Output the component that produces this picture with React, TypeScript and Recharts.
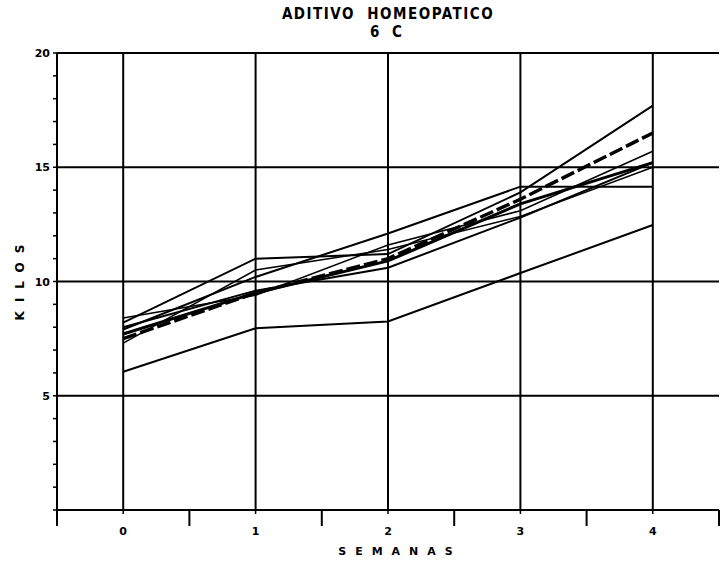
import * as React from 'react';
import { LineChart, Line, XAxis, YAxis, ReferenceLine } from 'recharts';

// weeks on the x axis
const weeks = [0, 1, 2, 3, 4];

// weight (kilos) of each animal, one value per week
const animalA = [8.2, 11.0, 11.2, 13.9, 17.7];
const animalB = [7.5, 9.5, 11.0, 13.6, 16.5];
const animalC = [7.9, 10.2, 12.1, 14.15, 14.15];
const animalD = [8.4, 9.4, 11.6, 13.1, 15.7];
const animalE = [7.7, 9.5, 10.9, 13.4, 15.2];
const animalF = [7.3, 10.5, 11.4, 12.85, 15.0];
const animalG = [8.0, 9.6, 10.6, 12.8, 15.2];
const animalH = [6.05, 7.95, 8.25, 10.37, 12.47];

const xTicks = [-0.5, 0, 0.5, 1, 1.5, 2, 2.5, 3, 3.5, 4, 4.5];
const yTicks = [0, 1, 2, 3, 4, 5, 6, 7, 8, 9, 10, 11, 12, 13, 14, 15, 16, 17, 18, 19, 20];
const yLabels = [5, 10, 15, 20];
const xGrid = [0, 1, 2, 3, 4];
const yGrid = [5, 10, 15, 20];

const data = weeks.map((w, i) => ({
  week: w,
  a: animalA[i],
  b: animalB[i],
  c: animalC[i],
  d: animalD[i],
  e: animalE[i],
  f: animalF[i],
  g: animalG[i],
  h: animalH[i],
}));

const labelFont = '"DejaVu Sans", sans-serif';
const titleFont = '"Liberation Sans Narrow", "DejaVu Sans Condensed", sans-serif';

function XTick(props: any) {
  const { x, y, payload } = props;
  const v = payload.value;
  const whole = Number.isInteger(v);
  if (!whole) {
    return <line x1={x} x2={x} y1={y} y2={y + 16} stroke="#000" strokeWidth={2} />;
  }
  return (
    <g>
      <line x1={x} x2={x} y1={y} y2={y + 4} stroke="#000" strokeWidth={1.5} />
      <text x={x} y={y + 25} textAnchor="middle" fontFamily={labelFont} fontWeight="bold" fontSize={11} fill="#000">
        {v}
      </text>
    </g>
  );
}

function YTick(props: any) {
  const { x, y, payload } = props;
  const v = payload.value;
  return (
    <g>
      <line x1={x - 4} x2={x} y1={y} y2={y} stroke="#000" strokeWidth={1.5} />
      {yLabels.includes(v) && (
        <text x={x - 7} y={y + 4} textAnchor="end" fontFamily={labelFont} fontWeight="bold" fontSize={11} fill="#000">
          {v}
        </text>
      )}
    </g>
  );
}

export default function App() {
  return (
    <div style={{ position: 'absolute', left: 0, top: 0, width: 721, height: 566, background: '#fff' }}>
      <div
        style={{
          position: 'absolute',
          left: 0,
          width: 776,
          top: 6,
          textAlign: 'center',
          fontFamily: titleFont,
          fontWeight: 'bold',
          fontSize: 15,
          lineHeight: '17.5px',
          letterSpacing: 1.5,
          color: '#000',
        }}
      >
        <div>ADITIVO&nbsp;&nbsp;HOMEOPATICO</div>
        <div style={{ letterSpacing: 4 }}>6 C</div>
      </div>
      <div
        style={{
          position: 'absolute',
          left: 8,
          top: 278,
          transform: 'translate(-50%, -50%) rotate(-90deg)',
          transformOrigin: 'center',
          marginLeft: 12,
          fontFamily: labelFont,
          fontWeight: 'bold',
          fontSize: 12,
          letterSpacing: 9,
          whiteSpace: 'nowrap',
          color: '#000',
        }}
      >
        KILOS
      </div>
      <div
        style={{
          position: 'absolute',
          left: 0,
          width: 800,
          top: 545,
          textAlign: 'center',
          fontFamily: labelFont,
          fontWeight: 'bold',
          fontSize: 11,
          letterSpacing: 9,
          color: '#000',
        }}
      >
        SEMANAS
      </div>
      <LineChart width={721} height={566} data={data} margin={{ top: 53, right: 2, left: 0, bottom: 0 }}>
        <XAxis
          dataKey="week"
          type="number"
          domain={[-0.5, 4.5]}
          ticks={xTicks}
          interval={0}
          height={56}
          tickSize={0}
          tickMargin={0}
          tickLine={false}
          axisLine={{ stroke: '#000', strokeWidth: 2 }}
          tick={<XTick />}
        />
        <YAxis
          type="number"
          domain={[0, 20]}
          ticks={yTicks}
          interval={0}
          width={57}
          tickSize={0}
          tickMargin={0}
          tickLine={false}
          axisLine={{ stroke: '#000', strokeWidth: 2 }}
          tick={<YTick />}
        />
        {xGrid.map((v) => (
          <ReferenceLine key={'x' + v} x={v} stroke="#000" strokeWidth={2} />
        ))}
        {yGrid.map((v) => (
          <ReferenceLine key={'y' + v} y={v} stroke="#000" strokeWidth={2} />
        ))}
        <Line dataKey="a" stroke="#000" strokeWidth={2} dot={false} isAnimationActive={false} />
        <Line dataKey="b" stroke="#000" strokeWidth={3.5} strokeDasharray="14 4" dot={false} isAnimationActive={false} />
        <Line dataKey="c" stroke="#000" strokeWidth={2} dot={false} isAnimationActive={false} />
        <Line dataKey="d" stroke="#000" strokeWidth={1.5} dot={false} isAnimationActive={false} />
        <Line dataKey="e" stroke="#000" strokeWidth={3} dot={false} isAnimationActive={false} />
        <Line dataKey="f" stroke="#000" strokeWidth={1.5} dot={false} isAnimationActive={false} />
        <Line dataKey="g" stroke="#000" strokeWidth={2} dot={false} isAnimationActive={false} />
        <Line dataKey="h" stroke="#000" strokeWidth={2} dot={false} isAnimationActive={false} />
      </LineChart>
    </div>
  );
}
